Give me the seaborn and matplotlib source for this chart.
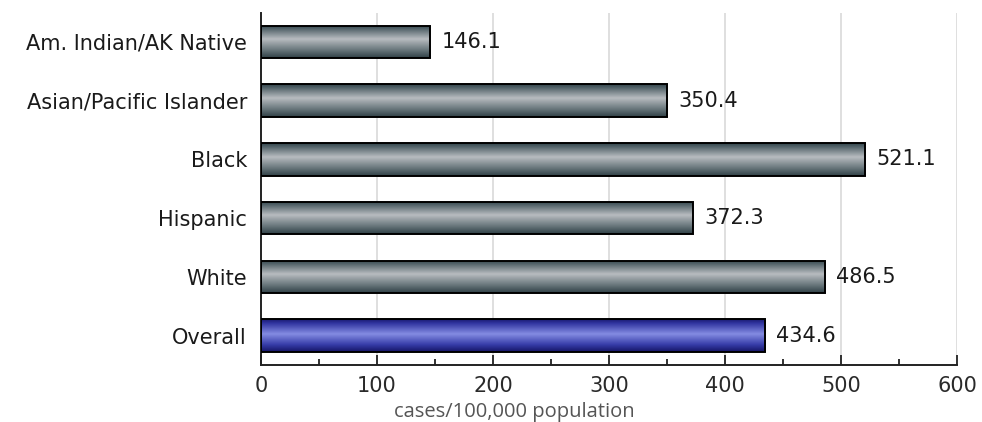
import numpy as np
import pandas as pd
import seaborn as sns
import matplotlib
matplotlib.use("Agg")
import matplotlib.pyplot as plt
from matplotlib.colors import LinearSegmentedColormap
from matplotlib.ticker import MultipleLocator

# Rates by race/ethnicity
categories = ["Am. Indian/AK Native", "Asian/Pacific Islander", "Black",
              "Hispanic", "White", "Overall"]
rates = [146.1, 350.4, 521.1, 372.3, 486.5, 434.6]
x_ticks = [0, 100, 200, 300, 400, 500, 600]
x_label = "cases/100,000 population"

sns.set_theme(style="white")
plt.rcParams["font.family"] = ["DejaVu Sans"]

df = pd.DataFrame({"group": categories, "rate": rates})

fig = plt.figure(figsize=(9.82, 4.22), dpi=100)
ax = fig.add_axes([261 / 982, 1 - 365 / 422, (957 - 261) / 982, (365 - 12.5) / 422])

sns.barplot(data=df, x="rate", y="group", orient="h", ax=ax,
            color="#808a8e", width=0.55, edgecolor="black", linewidth=1.4,
            zorder=3)

# vertical shading for the bars
gray_cmap = LinearSegmentedColormap.from_list(
    "steel", [(0.0, "#31434a"), (0.12, "#56666c"), (0.42, "#b8bcc0"),
              (0.75, "#6a787d"), (1.0, "#304046")])
blue_cmap = LinearSegmentedColormap.from_list(
    "navy", [(0.0, "#1a1a70"), (0.12, "#3034a0"), (0.45, "#848ce2"),
             (0.78, "#363ca8"), (1.0, "#141464")])
grad = np.linspace(0, 1, 128).reshape(-1, 1)

for patch, name in zip(ax.patches, categories):
    x0, y0 = patch.get_x(), patch.get_y()
    w, h = patch.get_width(), patch.get_height()
    cmap = blue_cmap if name == "Overall" else gray_cmap
    im = ax.imshow(grad, cmap=cmap, aspect="auto", origin="upper",
                   extent=(x0, x0 + w, y0 + h, y0), zorder=2.5,
                   interpolation="bilinear")
    im.set_clip_path(patch)
    patch.set_facecolor("none")
    ax.annotate(f"{w:.1f}", xy=(x0 + w, y0 + h / 2), xytext=(8, 0),
                textcoords="offset points", ha="left", va="center",
                fontsize=15, color="#1a1a1a", zorder=4)

ax.set_xlim(0, 600)
ax.set_ylim(len(categories) - 0.5, -0.5)
ax.set_xticks(x_ticks)
ax.xaxis.set_minor_locator(MultipleLocator(50))
ax.grid(axis="x", which="major", color="#dcdcdc", linewidth=1.3, zorder=0)
ax.set_axisbelow(True)

for side in ("top", "right"):
    ax.spines[side].set_visible(False)
for side in ("left", "bottom"):
    ax.spines[side].set_color("#222222")
    ax.spines[side].set_linewidth(1.4)

ax.tick_params(axis="x", which="both", bottom=True)
ax.tick_params(axis="x", which="major", direction="in", length=7.5, width=1.3,
               color="#222222", pad=8, labelsize=15, labelcolor="#2a2a2a")
ax.tick_params(axis="x", which="minor", direction="in", length=4, width=1.3,
               color="#222222")
ax.tick_params(axis="y", left=False, length=0, pad=10, labelsize=15,
               labelcolor="#1a1a1a")

ax.set_ylabel("")
ax.set_xlabel(x_label, fontsize=14.5, color="#555555", family="Open Sans")
ax.xaxis.set_label_coords((514 - 261) / 696, -0.105)

fig.savefig("out.png", dpi=100, facecolor="white")
